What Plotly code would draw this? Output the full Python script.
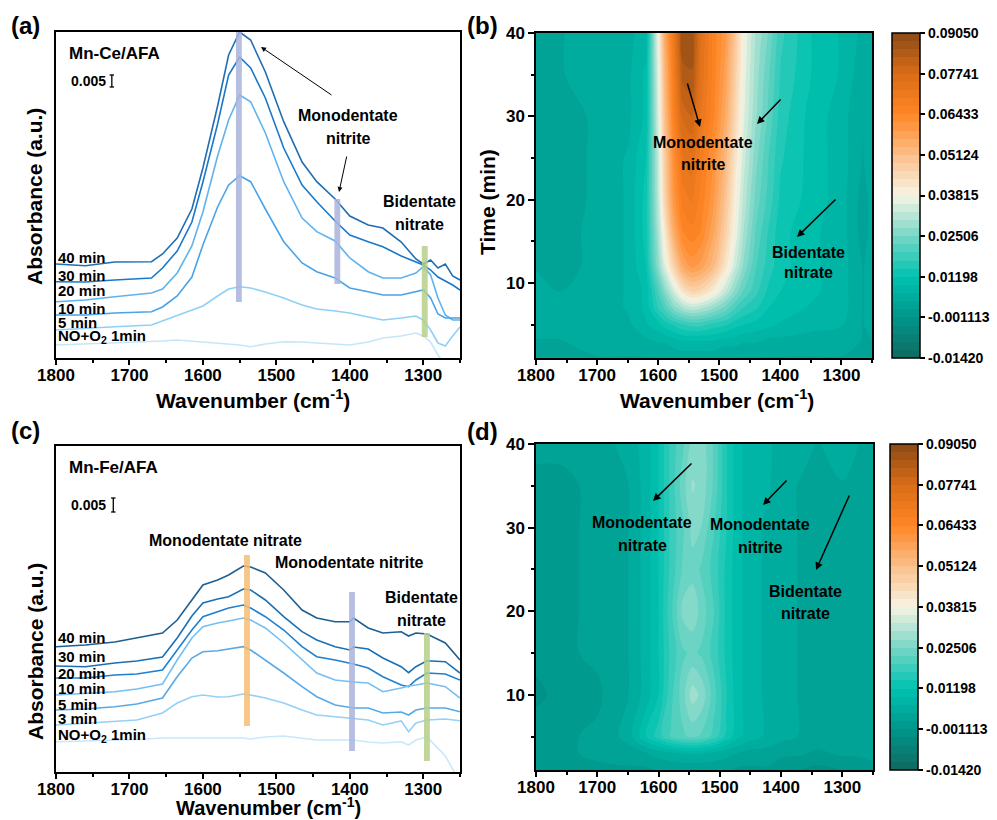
import plotly.graph_objects as go

W, H = 997, 820
FONT = "Arial, 'Liberation Sans', sans-serif"

# ---------------- data: panel (a) Mn-Ce/AFA spectra (stacked, a.u.) ----------------
W_A = [1800, 1760, 1720, 1670, 1655, 1635, 1615, 1600, 1580, 1565, 1550, 1535, 1515, 1490,
       1465, 1445, 1420, 1400, 1375, 1355, 1330, 1310, 1300, 1290, 1280, 1270, 1260, 1250]
A_40 = [94, 92.3, 96, 96.3, 104, 120, 149, 190, 252, 303, 326, 318, 286, 236.3,
        196, 176.3, 159, 142, 133, 130, 116, 99, 94, 98, 90, 94, 82, 78]
A_30 = [76.3, 76, 78, 80, 90, 107, 136, 176, 234, 283, 301, 290, 260, 210,
        173, 156.3, 137, 123, 116.3, 111.3, 102, 96.3, 93, 88, 81, 77, 73, 68]
A_20 = [56.3, 58, 61.3, 65, 69, 85, 112, 146, 202, 238, 263, 256.3, 225, 176.3,
        140, 126.3, 117, 100, 86.3, 80, 80, 85, 91.3, 83, 60, 43, 38, 38]
A_10 = [43, 43, 45, 46.3, 51, 62, 81, 113, 151, 173, 182.3, 176.3, 149, 116.3,
        95, 86.3, 80, 70, 66.3, 63, 63, 66, 68, 60, 44, 40, 40, 40]
A_5 = [28, 30, 31.3, 33, 37, 42, 48, 52, 62, 69, 71.3, 70, 66, 60,
       53, 49, 47, 45, 41, 38, 40, 42, 38, 28, 15, 12, 22, 31]
A_1 = [13, 14, 15, 16, 17, 18, 17, 16, 15, 14, 13, 11.3, 14, 16.3,
       16, 15, 13.5, 13, 16, 20, 22, 25, 22, 16, 3, -7, -14, -20]
LABELS_A = ["40 min", "30 min", "20 min", "10 min", "5 min", "NO+O<sub>2</sub> 1min"]
COLORS_A = ["#1f6eb4", "#1b78c8", "#5fb3ee", "#4aa3e8", "#8fd0f7", "#c5e6fa"]

# ---------------- data: panel (c) Mn-Fe/AFA spectra ----------------
W_C = [1800, 1760, 1720, 1690, 1655, 1635, 1615, 1600, 1580, 1565, 1545, 1535, 1515, 1490,
       1465, 1445, 1420, 1400, 1395, 1375, 1355, 1330, 1320, 1310, 1295, 1270, 1250]
C_40 = [125.3, 127, 130, 134, 139, 152, 172, 187, 192, 197, 206, 205, 199, 182,
        162, 154, 150.3, 150.3, 154, 144, 139, 140.3, 136, 139, 138, 129, 112]
C_30 = [106, 105.3, 109, 111, 115, 134, 156, 169, 173, 175.3, 183, 182, 172, 155.3,
        140.3, 132, 125.3, 122, 125, 123, 114, 105.3, 99.3, 105.3, 111.3, 110.3, 99]
C_20 = [94, 94, 97, 98, 102, 122, 142, 155.3, 160.3, 164, 167, 164, 155.3, 142,
        125.3, 115.3, 112, 109, 108, 104, 95.3, 87, 85.3, 92, 99, 98, 92]
C_10 = [77, 79, 80.3, 83, 88, 112, 134, 145.3, 149, 151, 154, 152, 144, 129,
        112, 99, 92, 90.3, 90, 89, 80.3, 84, 86, 87, 89, 85.3, 74]
C_5 = [62, 63, 65.3, 68, 74, 95.3, 114, 120.3, 121.3, 123, 125.3, 122, 112, 99,
       85.3, 75.3, 67, 64, 64, 64, 59, 60, 57, 62, 64, 64, 60.3]
C_3 = [47, 49, 50.3, 52, 59, 69, 75.3, 77, 75, 75.3, 78, 77, 74, 69,
       62, 57, 55.3, 54, 54, 52, 47, 51, 40.3, 49, 52, 53, 51.3]
C_1 = [30.3, 31, 32, 32.5, 34, 34, 34, 34.3, 34.2, 34, 34, 33, 35, 36,
       34, 32, 32, 32, 32, 30, 29, 30.3, 27, 32, 35, 16, -10]
LABELS_C = ["40 min", "30 min", "20 min", "10 min", "5 min", "3 min", "NO+O<sub>2</sub> 1min"]
COLORS_C = ["#1d5f92", "#1a70b5", "#1f80cf", "#74bff3", "#58a9e6", "#95d0f6", "#c9e8fb"]

# ---------------- data: panel (b) contour map (Mn-Ce/AFA) ----------------
W_B = [1800, 1760, 1700, 1650, 1620, 1600, 1590, 1575, 1560, 1545, 1530,
       1510, 1490, 1475, 1460, 1440, 1420, 1400, 1350, 1300, 1265, 1250]
T_B = [1, 3, 5, 7, 9, 12, 16, 20, 25, 30, 35, 40]
Z_B = [
    [0.003, 0.003, 0.004, 0.004, 0.004, 0.004, 0.004, 0.005, 0.005, 0.005, 0.005, 0.005, 0.004, 0.004, 0.004, 0.004, 0.004, 0.004, 0.004, 0.004, 0.003, 0.003],
    [0.004, 0.004, 0.005, 0.005, 0.006, 0.007, 0.007, 0.008, 0.009, 0.009, 0.009, 0.009, 0.008, 0.008, 0.007, 0.007, 0.006, 0.006, 0.005, 0.005, 0.004, 0.004],
    [0.005, 0.005, 0.005, 0.006, 0.009, 0.011, 0.013, 0.015, 0.017, 0.018, 0.018, 0.016, 0.015, 0.013, 0.012, 0.011, 0.010, 0.009, 0.008, 0.007, 0.004, 0.005],
    [0.005, 0.005, 0.005, 0.007, 0.010, 0.017, 0.020, 0.026, 0.030, 0.032, 0.031, 0.028, 0.024, 0.020, 0.017, 0.015, 0.012, 0.011, 0.009, 0.008, 0.004, 0.005],
    [0.005, 0.004, 0.005, 0.007, 0.010, 0.020, 0.026, 0.034, 0.042, 0.046, 0.045, 0.040, 0.033, 0.027, 0.022, 0.018, 0.014, 0.012, 0.010, 0.008, 0.004, 0.005],
    [0.004, 0.003, 0.005, 0.007, 0.012, 0.027, 0.035, 0.046, 0.056, 0.060, 0.058, 0.052, 0.042, 0.034, 0.027, 0.020, 0.016, 0.013, 0.010, 0.008, 0.004, 0.005],
    [0.004, 0.003, 0.005, 0.007, 0.013, 0.030, 0.040, 0.055, 0.064, 0.066, 0.064, 0.057, 0.047, 0.038, 0.030, 0.022, 0.017, 0.013, 0.010, 0.008, 0.003, 0.005],
    [0.004, 0.002, 0.005, 0.007, 0.013, 0.032, 0.045, 0.060, 0.068, 0.070, 0.066, 0.060, 0.050, 0.040, 0.032, 0.024, 0.019, 0.014, 0.011, 0.008, 0.003, 0.005],
    [0.003, 0.002, 0.005, 0.007, 0.012, 0.033, 0.047, 0.062, 0.072, 0.074, 0.068, 0.062, 0.053, 0.043, 0.034, 0.026, 0.020, 0.015, 0.011, 0.008, 0.004, 0.006],
    [0.003, 0.002, 0.005, 0.006, 0.010, 0.035, 0.050, 0.066, 0.078, 0.080, 0.072, 0.065, 0.056, 0.046, 0.036, 0.028, 0.022, 0.016, 0.011, 0.008, 0.004, 0.006],
    [0.004, 0.004, 0.005, 0.006, 0.010, 0.036, 0.052, 0.068, 0.084, 0.085, 0.074, 0.066, 0.058, 0.048, 0.037, 0.029, 0.023, 0.017, 0.012, 0.009, 0.005, 0.006],
    [0.004, 0.004, 0.005, 0.006, 0.008, 0.038, 0.055, 0.070, 0.088, 0.087, 0.075, 0.066, 0.060, 0.050, 0.038, 0.030, 0.025, 0.018, 0.012, 0.009, 0.006, 0.006],
]

# ---------------- data: panel (d) contour map (Mn-Fe/AFA) ----------------
W_D = [1800, 1760, 1700, 1650, 1620, 1600, 1580, 1560, 1545, 1530, 1510,
       1490, 1470, 1450, 1420, 1400, 1370, 1340, 1300, 1270, 1250]
T_D = [1, 3, 5, 10, 15, 20, 25, 30, 35, 40]
Z_D = [
    [0.000, 0.000, 0.001, 0.001, 0.001, 0.002, 0.002, 0.002, 0.002, 0.002, 0.002, 0.002, 0.001, 0.001, 0.001, 0.000, -0.001, -0.002, -0.001, 0.000, 0.001],
    [0.001, 0.001, 0.002, 0.003, 0.004, 0.005, 0.006, 0.007, 0.007, 0.007, 0.006, 0.005, 0.004, 0.003, 0.003, 0.002, 0.002, 0.001, 0.002, 0.002, 0.002],
    [0.001, 0.001, 0.002, 0.005, 0.012, 0.016, 0.020, 0.022, 0.023, 0.022, 0.019, 0.014, 0.010, 0.008, 0.006, 0.005, 0.004, 0.003, 0.004, 0.003, 0.003],
    [-0.002, 0.000, 0.001, 0.004, 0.008, 0.012, 0.019, 0.024, 0.029, 0.027, 0.021, 0.015, 0.010, 0.008, 0.006, 0.005, 0.004, 0.003, 0.004, 0.003, 0.003],
    [0.000, 0.001, 0.002, 0.004, 0.008, 0.012, 0.018, 0.022, 0.023, 0.022, 0.019, 0.014, 0.010, 0.008, 0.006, 0.005, 0.004, 0.003, 0.004, 0.003, 0.003],
    [0.001, 0.001, 0.002, 0.004, 0.008, 0.012, 0.019, 0.026, 0.027, 0.024, 0.020, 0.014, 0.010, 0.008, 0.006, 0.005, 0.004, 0.003, 0.004, 0.004, 0.003],
    [0.001, 0.001, 0.002, 0.004, 0.008, 0.012, 0.018, 0.023, 0.024, 0.022, 0.019, 0.014, 0.010, 0.008, 0.006, 0.005, 0.004, 0.003, 0.004, 0.004, 0.003],
    [0.001, 0.001, 0.002, 0.004, 0.008, 0.012, 0.018, 0.022, 0.026, 0.025, 0.020, 0.015, 0.010, 0.008, 0.006, 0.005, 0.004, 0.003, 0.004, 0.004, 0.003],
    [0.001, 0.001, 0.002, 0.004, 0.008, 0.012, 0.018, 0.024, 0.028, 0.027, 0.022, 0.015, 0.010, 0.008, 0.007, 0.005, 0.004, 0.003, 0.004, 0.004, 0.003],
    [0.002, 0.002, 0.003, 0.005, 0.008, 0.012, 0.018, 0.022, 0.026, 0.027, 0.022, 0.015, 0.010, 0.008, 0.007, 0.006, 0.005, 0.004, 0.005, 0.004, 0.003],
]

CBAR_TICKS = [-0.0142, -0.001113, 0.01198, 0.02506, 0.03815, 0.05124, 0.06433, 0.07741, 0.0905]
CBAR_TEXT = ["-0.01420", "-0.001113", "0.01198", "0.02506", "0.03815", "0.05124", "0.06433", "0.07741", "0.09050"]
X_TICKS = [1800, 1700, 1600, 1500, 1400, 1300]

# marker bands: (center wavenumber, bottom, top, color)
BANDS_A = [(1551, 56, 326, "#a9b4dc"), (1417, 74, 159, "#a9b4dc"), (1298, 21, 112, "#b5cf8a")]
BANDS_C = [(1540, 46, 217, "#f5bd72"), (1397, 21, 180, "#a9b4dc"), (1295, 11, 139, "#b5cf8a")]

CS = [[0.0, "#0f6b60"], [0.125, "#00958a"], [0.25, "#00c2b0"], [0.375, "#78d6c6"],
      [0.5, "#f7f4e4"], [0.625, "#fbbf8a"], [0.75, "#ff8624"], [0.875, "#d96c18"], [1.0, "#8b4a16"]]

fig = go.Figure()

for ys, name, col in zip([A_40, A_30, A_20, A_10, A_5, A_1], LABELS_A, COLORS_A):
    fig.add_trace(go.Scatter(x=W_A, y=ys, mode="lines", line=dict(color=col, width=1.6),
                             xaxis="x", yaxis="y", showlegend=False, name=name))
for ys, name, col in zip([C_40, C_30, C_20, C_10, C_5, C_3, C_1], LABELS_C, COLORS_C):
    fig.add_trace(go.Scatter(x=W_C, y=ys, mode="lines", line=dict(color=col, width=1.6),
                             xaxis="x3", yaxis="y3", showlegend=False, name=name))


def cbar(x0, y0, y1):
    return dict(x=x0 / W, xanchor="left", xref="paper", y=1 - (y0 + y1) / 2 / H, yanchor="middle",
                yref="paper", len=(y1 - y0) / H, lenmode="fraction", thickness=28,
                thicknessmode="pixels", xpad=0, ypad=0,
                outlinewidth=1.5, outlinecolor="black", ticks="outside", ticklen=5, tickwidth=1.5,
                tickcolor="black", tickvals=CBAR_TICKS, ticktext=CBAR_TEXT,
                tickfont=dict(family=FONT, size=14, color="black", weight="bold"))


contours = dict(start=CBAR_TICKS[0], end=CBAR_TICKS[-1], size=(CBAR_TICKS[1] - CBAR_TICKS[0]) / 5,
                coloring="fill", showlines=False)
fig.add_trace(go.Contour(x=W_B, y=T_B, z=Z_B, xaxis="x2", yaxis="y2", colorscale=CS,
                         zmin=CBAR_TICKS[0], zmax=CBAR_TICKS[-1], autocontour=False,
                         contours=contours, line=dict(width=0, smoothing=1.0),
                         colorbar=cbar(892, 33, 358), showscale=True))
fig.add_trace(go.Contour(x=W_D, y=T_D, z=Z_D, xaxis="x4", yaxis="y4", colorscale=CS,
                         zmin=CBAR_TICKS[0], zmax=CBAR_TICKS[-1], autocontour=False,
                         contours=contours, line=dict(width=0, smoothing=1.0),
                         colorbar=cbar(890, 444, 770), showscale=True))

tickfont = dict(family=FONT, size=17, color="black", weight="bold")


def xaxis(dom, anchor):
    return dict(domain=[dom[0] / W, dom[1] / W], anchor=anchor, range=[1800, 1250],
                tickvals=X_TICKS, ticks="outside", ticklen=5, tickwidth=1.5, tickcolor="black",
                showline=True, linecolor="black", linewidth=1.5, mirror=True,
                showgrid=False, zeroline=False, tickfont=tickfont, automargin=False,
                ticklabelstandoff=-4,
                minor=dict(ticks="outside", ticklen=3, tickwidth=1.5, tickcolor="black",
                           dtick=50, tick0=1800, showgrid=False))


def yspec(dom, anchor):
    return dict(domain=[1 - dom[1] / H, 1 - dom[0] / H], anchor=anchor, range=[0, 326],
                showticklabels=False, ticks="", showline=True, linecolor="black",
                linewidth=1.5, mirror=True, showgrid=False, zeroline=False, automargin=False)


def ymap(dom, anchor):
    return dict(domain=[1 - dom[1] / H, 1 - dom[0] / H], anchor=anchor, range=[1, 40],
                tickvals=[10, 20, 30, 40], ticks="outside", ticklen=6, tickwidth=1.5,
                tickcolor="black", showline=True, linecolor="black", linewidth=1.5,
                mirror=True, showgrid=False, zeroline=False, tickfont=tickfont, automargin=False,
                minor=dict(ticks="outside", ticklen=3, tickwidth=1.5, tickcolor="black",
                           dtick=5, tick0=0, showgrid=False))


shapes = []
for (c, y0, y1, col) in BANDS_A:
    shapes.append(dict(type="rect", xref="x", yref="y", x0=c + 4, x1=c - 4, y0=y0, y1=y1,
                       fillcolor=col, line=dict(width=0), opacity=0.85, layer="above"))
for (c, y0, y1, col) in BANDS_C:
    shapes.append(dict(type="rect", xref="x3", yref="y3", x0=c + 4, x1=c - 4, y0=y0, y1=y1,
                       fillcolor=col, line=dict(width=0), opacity=0.85, layer="above"))

# scale bars (0.005)
for xr, yr, xc, y0, ln in [("x", "y", 1724, 271, 12), ("x3", "y3", 1722, 260, 14)]:
    shapes.append(dict(type="line", xref=xr, yref=yr, x0=xc, x1=xc, y0=y0, y1=y0 + ln,
                       line=dict(color="black", width=1.3)))
    for yy in (y0, y0 + ln):
        shapes.append(dict(type="line", xref=xr, yref=yr, x0=xc + 3, x1=xc - 3, y0=yy, y1=yy,
                           line=dict(color="black", width=1.3)))


def txt(s, x, y, size=16, xanchor="center", angle=0):
    return dict(text=s, x=x / W, y=1 - y / H, xref="paper", yref="paper", showarrow=False,
                xanchor=xanchor, yanchor="middle", textangle=angle,
                font=dict(family=FONT, size=size, color="black", weight="bold"))


def arrow(hx, hy, tx, ty, width=1.2, size=1.0):
    return dict(text="", x=hx / W, y=1 - hy / H, xref="paper", yref="paper",
                ax=tx - hx, ay=ty - hy, axref="pixel", ayref="pixel", showarrow=True,
                arrowhead=2, arrowsize=size, arrowwidth=width, arrowcolor="black",
                standoff=0, startstandoff=0)


ann = []
# panel labels
for s, x, y in [("(a)", 9, 25), ("(b)", 465, 25), ("(c)", 9, 430), ("(d)", 465, 431)]:
    ann.append(txt(s, x, y, size=24, xanchor="left"))
# axis titles
ann.append(txt("Wavenumber (cm<sup>-1</sup>)", 253, 399, size=21))
ann.append(txt("Wavenumber (cm<sup>-1</sup>)", 717, 399, size=21))
ann.append(txt("Wavenumber (cm<sup>-1</sup>)", 268, 806, size=20))
ann.append(txt("Absorbance (a.u.)", 34, 197, size=21, angle=-90))
ann.append(txt("Absorbance (a.u.)", 35, 652, size=21, angle=-90))
ann.append(txt("Time (min)", 487, 202, size=21, angle=-90))
# panel (a)
ann += [txt("Mn-Ce/AFA", 67, 53, size=17, xanchor="left"),
        txt("0.005", 69, 81, size=14, xanchor="left"),
        txt("Monodentate", 348, 115), txt("nitrite", 348, 138),
        txt("Bidentate", 419, 201), txt("nitrate", 419, 224),
        arrow(261, 47, 333, 96, width=1.0), arrow(339, 192, 347, 155, width=1.0)]
for s, y in zip(LABELS_A, [257, 275, 290, 308, 322, 337]):
    ann.append(txt(s, 56, y, size=15, xanchor="left"))
# panel (c)
ann += [txt("Mn-Fe/AFA", 67, 468, size=17, xanchor="left"),
        txt("0.005", 69, 505, size=14, xanchor="left"),
        txt("Monodentate nitrate", 225, 540), txt("Monodentate nitrite", 349, 562),
        txt("Bidentate", 421, 597), txt("nitrate", 421, 620)]
for s, y in zip(LABELS_C, [637, 656, 673, 688, 704, 718, 735]):
    ann.append(txt(s, 56, y, size=15, xanchor="left"))
# panel (b)
ann += [txt("Monodentate", 703, 143), txt("nitrite", 703, 165),
        txt("Bidentate", 808, 252), txt("nitrate", 808, 272),
        arrow(700, 127, 687, 82, width=1.5), arrow(757, 124, 782, 98, width=1.5),
        arrow(797, 237, 837, 198, width=1.5)]
# panel (d)
ann += [txt("Monodentate", 642, 522), txt("nitrate", 642, 545),
        txt("Monodentate", 760, 524), txt("nitrite", 760, 547),
        txt("Bidentate", 805, 591), txt("nitrate", 805, 613),
        arrow(653, 501, 693, 462, width=1.5), arrow(763, 505, 788, 479, width=1.5),
        arrow(816, 570, 850, 494, width=1.5)]

fig.update_layout(
    width=W, height=H, margin=dict(l=0, r=0, t=0, b=0, pad=0, autoexpand=False),
    paper_bgcolor="white", plot_bgcolor="white", showlegend=False,
    xaxis=xaxis((56, 460), "y"), yaxis=yspec((32, 358), "x"),
    xaxis2=xaxis((536, 872), "y2"), yaxis2=ymap((33, 358), "x2"),
    xaxis3=xaxis((56, 460), "y3"), yaxis3=yspec((446, 772), "x3"),
    xaxis4=xaxis((536, 873), "y4"), yaxis4=ymap((444, 770), "x4"),
    shapes=shapes, annotations=ann,
)

fig.write_html("out.html", config={"displayModeBar": False},
               post_script="document.body.style.margin='0px';document.body.style.overflow='hidden';")
